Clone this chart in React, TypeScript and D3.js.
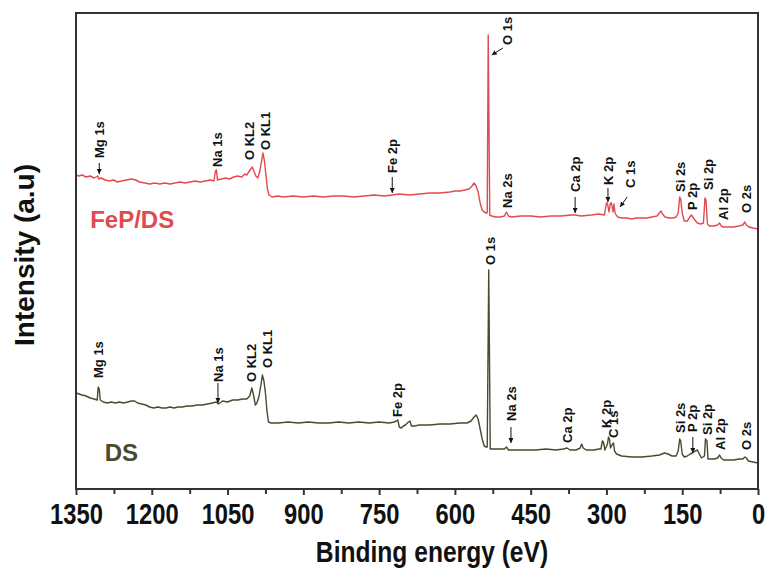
import React, { useRef, useEffect } from "react";
import * as d3 from "d3";

// survey spectra, [binding energy (eV), intensity (a.u.)]
const fepdsSpectrum: [number, number][] = [
  [1350, 314], [1344, 313], [1338, 314], [1330, 312], [1322, 313], [1314, 311], [1307, 313], [1305, 310],
  [1300, 311], [1292, 309], [1284, 308], [1276, 309], [1268, 307], [1260, 308], [1250, 309], [1240, 310],
  [1232, 309], [1224, 307], [1214, 306], [1204, 305], [1194, 306], [1184, 305], [1174, 306], [1164, 305],
  [1154, 306], [1144, 307], [1134, 306], [1124, 307], [1114, 308], [1104, 307], [1094, 308], [1084, 309],
  [1077, 308], [1074, 318], [1072, 319], [1070, 309], [1062, 310], [1054, 311], [1046, 310], [1038, 312],
  [1030, 313], [1022, 312], [1016, 315], [1012, 314], [1008, 317], [1004, 320], [1001, 322], [998, 318],
  [994, 313], [990, 311], [986, 318], [982, 330], [980, 336], [977, 328], [974, 314], [971, 300],
  [968, 294], [962, 292], [950, 293], [940, 292], [920, 293], [900, 292], [880, 293], [860, 292],
  [840, 293], [820, 293], [800, 292], [780, 293], [760, 294], [740, 293], [724, 294], [710, 295],
  [690, 294], [670, 295], [650, 296], [630, 296], [610, 297], [600, 298], [590, 298], [580, 299],
  [572, 300], [566, 303], [562, 306], [558, 303], [554, 297], [550, 286], [546, 279], [542, 277],
  [538, 276], [536, 276], [534, 454], [531, 274], [527, 273], [520, 272], [510, 272], [502, 273],
  [498, 277], [494, 273], [488, 272], [470, 273], [450, 273], [430, 272], [410, 273], [390, 273],
  [370, 274], [362, 274], [350, 273], [330, 274], [315, 275], [304, 274], [300, 286], [298, 286],
  [295, 277], [292, 286], [290, 286], [287, 277], [285, 285], [283, 276], [278, 272], [270, 271],
  [260, 271], [250, 270], [240, 271], [230, 271], [220, 271], [210, 272], [200, 273], [195, 276],
  [192, 278], [189, 275], [184, 272], [176, 271], [168, 271], [162, 272], [158, 276], [155, 292],
  [153, 290], [150, 276], [146, 268], [140, 268], [136, 271], [132, 274], [129, 272], [125, 269],
  [120, 266], [114, 265], [108, 266], [105, 291], [103, 289], [100, 265], [96, 263], [88, 263],
  [80, 264], [76, 266], [73, 263], [68, 262], [58, 262], [48, 262], [38, 263], [30, 264],
  [26, 267], [23, 264], [18, 262], [10, 261], [0, 260],
];

const dsSpectrum: [number, number][] = [
  [1350, 96], [1344, 95], [1338, 94], [1330, 93], [1322, 91], [1314, 90], [1308, 89], [1306, 102],
  [1304, 100], [1302, 89], [1296, 87], [1288, 86], [1280, 87], [1272, 86], [1264, 87], [1256, 86],
  [1248, 87], [1240, 88], [1234, 88], [1228, 86], [1220, 85], [1212, 84], [1204, 82], [1196, 81],
  [1188, 82], [1180, 81], [1172, 81], [1164, 82], [1156, 81], [1148, 82], [1140, 82], [1130, 83],
  [1120, 83], [1110, 84], [1100, 84], [1090, 85], [1080, 86], [1072, 87], [1068, 85], [1060, 88],
  [1050, 87], [1040, 89], [1030, 89], [1020, 90], [1012, 90], [1006, 93], [1002, 101], [999, 95],
  [995, 84], [992, 86], [988, 92], [984, 104], [981, 114], [978, 108], [975, 96], [972, 78],
  [969, 67], [964, 66], [950, 66], [930, 67], [910, 66], [890, 67], [870, 66], [850, 66],
  [830, 67], [810, 66], [790, 67], [770, 66], [750, 67], [730, 66], [720, 67], [716, 68],
  [713, 69], [710, 62], [706, 61], [702, 63], [698, 64], [692, 67], [689, 68], [686, 63],
  [680, 63], [670, 64], [650, 64], [630, 65], [610, 65], [590, 66], [576, 66], [568, 68],
  [562, 72], [558, 74], [554, 70], [550, 60], [546, 50], [542, 43], [538, 42], [536, 42],
  [533, 219], [530, 40], [526, 40], [520, 40], [510, 40], [502, 40], [498, 42], [494, 39],
  [480, 39], [460, 39], [440, 39], [420, 40], [400, 39], [385, 40], [378, 41], [372, 39],
  [360, 39], [352, 41], [349, 45], [346, 41], [340, 39], [325, 39], [315, 40], [311, 40],
  [308, 48], [306, 47], [303, 39], [298, 45], [296, 52], [294, 50], [292, 41], [288, 45],
  [286, 46], [284, 38], [280, 35], [270, 33], [250, 32], [230, 32], [210, 33], [195, 34],
  [185, 36], [178, 35], [170, 33], [162, 33], [158, 38], [155, 50], [153, 48], [150, 35],
  [146, 32], [140, 33], [134, 35], [130, 36], [124, 38], [120, 39], [116, 35], [112, 31],
  [106, 33], [104, 50], [101, 48], [99, 30], [94, 30], [86, 30], [80, 31], [76, 34],
  [73, 31], [68, 29], [58, 29], [48, 29], [38, 30], [30, 30], [26, 32], [23, 31],
  [19, 28], [10, 27], [0, 26],
];

// peak assignments: label, energy, level where the label starts
const fepdsPeaks = [
  { name: "Mg 1s", ev: 1304, v: 331 },
  { name: "Na 1s", ev: 1071, v: 322 },
  { name: "O KL2", ev: 1007, v: 329 },
  { name: "O KL1", ev: 976, v: 339 },
  { name: "Fe 2p", ev: 724, v: 316 },
  { name: "O 1s", ev: 495, v: 444 },
  { name: "Na 2s", ev: 495, v: 281 },
  { name: "Ca 2p", ev: 362, v: 297 },
  { name: "K 2p", ev: 297, v: 304 },
  { name: "C 1s", ev: 253, v: 301 },
  { name: "Si 2s", ev: 154, v: 297 },
  { name: "P 2p", ev: 129, v: 279 },
  { name: "Si 2p", ev: 99, v: 299 },
  { name: "Al 2p", ev: 69, v: 269 },
  { name: "O 2s", ev: 22, v: 276 },
];

const dsPeaks = [
  { name: "Mg 1s", ev: 1306, v: 111 },
  { name: "Na 1s", ev: 1069, v: 107 },
  { name: "O KL2", ev: 1002, v: 107 },
  { name: "O KL1", ev: 972, v: 121 },
  { name: "Fe 2p", ev: 713, v: 72 },
  { name: "O 1s", ev: 530, v: 224 },
  { name: "Na 2s", ev: 489, v: 68 },
  { name: "Ca 2p", ev: 378, v: 46 },
  { name: "K 2p", ev: 301, v: 61 },
  { name: "C 1s", ev: 287, v: 51 },
  { name: "Si 2s", ev: 154, v: 56 },
  { name: "P 2p", ev: 129, v: 57 },
  { name: "Si 2p", ev: 101, v: 54 },
  { name: "Al 2p", ev: 75, v: 39 },
  { name: "O 2s", ev: 22, v: 39 },
];

// pointer arrows [from, to] in (eV, a.u.)
const fepdsArrows = [
  [[1304, 326], [1304, 315]],
  [[724, 312], [724, 296]],
  [[505, 441], [527, 434]],
  [[362, 292], [362, 276]],
  [[297, 301], [297, 287]],
  [[259, 292], [273, 282]],
];

const dsArrows = [
  [[1069, 106], [1069, 86]],
  [[489, 62], [489, 46]],
  [[129, 52], [129, 36]],
];

const majorTicks = [1350, 1200, 1050, 900, 750, 600, 450, 300, 150, 0];
const minorTicks = [1275, 1125, 975, 825, 675, 525, 375, 225, 75];

const series = [
  { name: "FeP/DS", data: fepdsSpectrum, peaks: fepdsPeaks, arrows: fepdsArrows, color: "#e24a4f", tag: [1322, 261] },
  { name: "DS", data: dsSpectrum, peaks: dsPeaks, arrows: dsArrows, color: "#4a4931", tag: [1293, 28] },
];

const FONT = "'Liberation Sans', Arial, Helvetica, sans-serif";

const XpsSurvey = () => {
  const svgRef = useRef<SVGSVGElement>(null);

  useEffect(() => {
    const svg = d3.select(svgRef.current);
    svg.selectAll("*").remove();
    const width = 766;
    const height = 574;
    const margin = { top: 13, right: 8, bottom: 85, left: 76 };

    const x = d3.scaleLinear().domain([1350, 0]).range([margin.left, width - margin.right]);
    const y = d3.scaleLinear().domain([0, 476]).range([height - margin.bottom, margin.top]);

    svg
      .append("defs")
      .append("marker")
      .attr("id", "arrowhead")
      .attr("viewBox", "0 0 10 10")
      .attr("refX", 10)
      .attr("refY", 5)
      .attr("markerWidth", 5)
      .attr("markerHeight", 5)
      .attr("orient", "auto")
      .append("path")
      .attr("d", "M0,0 L10,5 L0,10 z")
      .attr("fill", "#111");

    const line = d3
      .line<[number, number]>()
      .x((d) => x(d[0]))
      .y((d) => y(d[1]));

    series.forEach((s) => {
      svg
        .append("path")
        .datum(s.data)
        .attr("d", line)
        .attr("fill", "none")
        .attr("stroke", s.color)
        .attr("stroke-width", 1.4)
        .attr("stroke-linejoin", "round");

      // peak labels, rotated to read upwards
      svg
        .append("g")
        .selectAll("text")
        .data(s.peaks)
        .enter()
        .append("text")
        .attr("transform", (d) => `translate(${x(d.ev)},${y(d.v)}) rotate(-90)`)
        .attr("dy", "0.35em")
        .attr("font-family", FONT)
        .attr("font-size", 13)
        .attr("font-weight", "bold")
        .attr("fill", "#111")
        .text((d) => d.name);

      svg
        .append("g")
        .selectAll("line")
        .data(s.arrows)
        .enter()
        .append("line")
        .attr("x1", (d) => x(d[0][0]))
        .attr("y1", (d) => y(d[0][1]))
        .attr("x2", (d) => x(d[1][0]))
        .attr("y2", (d) => y(d[1][1]))
        .attr("stroke", "#111")
        .attr("stroke-width", 1)
        .attr("marker-end", "url(#arrowhead)");

      svg
        .append("text")
        .attr("x", x(s.tag[0]))
        .attr("y", y(s.tag[1]))
        .attr("font-family", FONT)
        .attr("font-size", 24)
        .attr("font-weight", "bold")
        .attr("fill", s.color)
        .text(s.name);
    });

    // frame
    svg
      .append("rect")
      .attr("x", margin.left)
      .attr("y", margin.top)
      .attr("width", width - margin.left - margin.right)
      .attr("height", height - margin.top - margin.bottom)
      .attr("fill", "none")
      .attr("stroke", "#333")
      .attr("stroke-width", 2);

    const gx = svg
      .append("g")
      .attr("transform", `translate(0,${y(0)})`)
      .call(d3.axisBottom(x).tickValues(majorTicks).tickSize(6).tickPadding(8).tickFormat(d3.format("d")));
    gx.select(".domain").remove();
    gx.selectAll("line").attr("stroke", "#333").attr("stroke-width", 2);
    gx.selectAll("text")
      .attr("font-family", FONT)
      .attr("font-size", 29)
      .attr("font-weight", "bold")
      .attr("fill", "#111")
      .attr("transform", "scale(0.82,1)");

    const gm = svg
      .append("g")
      .attr("transform", `translate(0,${y(0)})`)
      .call(d3.axisBottom(x).tickValues(minorTicks).tickSize(5).tickFormat(() => ""));
    gm.select(".domain").remove();
    gm.selectAll("line").attr("stroke", "#333").attr("stroke-width", 2);

    svg
      .append("text")
      .attr("transform", "translate(432,562) scale(0.82,1)")
      .attr("text-anchor", "middle")
      .attr("font-family", FONT)
      .attr("font-size", 30)
      .attr("font-weight", "bold")
      .attr("fill", "#111")
      .text("Binding energy (eV)");

    svg
      .append("text")
      .attr("transform", "translate(34,255) rotate(-90)")
      .attr("text-anchor", "middle")
      .attr("font-family", FONT)
      .attr("font-size", 28)
      .attr("font-weight", "bold")
      .attr("fill", "#111")
      .text("Intensity (a.u)");
  }, []);

  return (
    <svg
      ref={svgRef}
      width={766}
      height={574}
      style={{ position: "absolute", left: 0, top: 0, background: "#fff" }}
    ></svg>
  );
};

export default function App() {
  return <XpsSurvey />;
}
